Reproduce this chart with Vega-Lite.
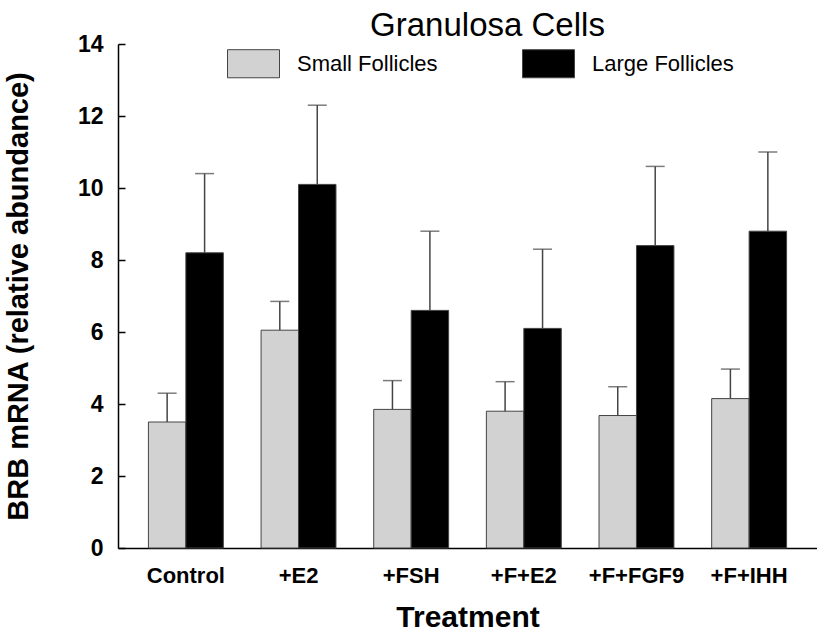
{
  "$schema": "https://vega.github.io/schema/vega-lite/v6.json",
  "width": 699,
  "height": 504,
  "autosize": {"type": "none"},
  "padding": {"left": 118, "top": 44, "right": 0, "bottom": 89},
  "background": "white",
  "config": {
    "font": "Liberation Sans",
    "view": {"stroke": null}
  },
  "title": {
    "text": "Granulosa Cells",
    "fontSize": 33,
    "fontWeight": "normal",
    "font": "Liberation Sans",
    "color": "black",
    "anchor": "middle",
    "baseline": "alphabetic",
    "offset": -36,
    "dx": 20
  },
  "data": {
    "values": [
      {"treatment": "Control", "follicle": "Small Follicles", "mean": 3.5, "upper": 4.3},
      {"treatment": "Control", "follicle": "Large Follicles", "mean": 8.2, "upper": 10.4},
      {"treatment": "+E2", "follicle": "Small Follicles", "mean": 6.05, "upper": 6.85},
      {"treatment": "+E2", "follicle": "Large Follicles", "mean": 10.1, "upper": 12.3},
      {"treatment": "+FSH", "follicle": "Small Follicles", "mean": 3.85, "upper": 4.65},
      {"treatment": "+FSH", "follicle": "Large Follicles", "mean": 6.6, "upper": 8.8},
      {"treatment": "+F+E2", "follicle": "Small Follicles", "mean": 3.8, "upper": 4.62},
      {"treatment": "+F+E2", "follicle": "Large Follicles", "mean": 6.1, "upper": 8.3},
      {"treatment": "+F+FGF9", "follicle": "Small Follicles", "mean": 3.68, "upper": 4.48},
      {"treatment": "+F+FGF9", "follicle": "Large Follicles", "mean": 8.4, "upper": 10.6},
      {"treatment": "+F+IHH", "follicle": "Small Follicles", "mean": 4.15, "upper": 4.97},
      {"treatment": "+F+IHH", "follicle": "Large Follicles", "mean": 8.8, "upper": 11.0}
    ]
  },
  "encoding": {
    "x": {
      "field": "treatment",
      "type": "nominal",
      "sort": ["Control", "+E2", "+FSH", "+F+E2", "+F+FGF9", "+F+IHH"],
      "scale": {"paddingInner": 0.335, "paddingOuter": 0.27},
      "axis": {
        "title": "Treatment",
        "titleFontSize": 30,
        "titleFontWeight": "bold",
        "titleColor": "black",
        "titlePadding": 16,
        "labelAngle": 0,
        "labelFontSize": 22,
        "labelFontWeight": "bold",
        "labelColor": "black",
        "labelPadding": 17,
        "ticks": false,
        "domainColor": "black",
        "domainWidth": 1.5
      }
    },
    "xOffset": {
      "field": "follicle",
      "type": "nominal",
      "sort": ["Small Follicles", "Large Follicles"],
      "scale": {"paddingInner": 0, "paddingOuter": 0}
    }
  },
  "layer": [
    {
      "mark": {"type": "bar", "stroke": "#444", "strokeWidth": 1},
      "encoding": {
        "y": {
          "field": "mean",
          "type": "quantitative",
          "scale": {"domain": [0, 14], "nice": false},
          "axis": {
            "title": "BRB mRNA (relative abundance)",
            "titleFontSize": 29,
            "titleFontWeight": "bold",
            "titleColor": "black",
            "titlePadding": 44,
            "values": [0, 1, 2, 3, 4, 5, 6, 7, 8, 9, 10, 11, 12, 13, 14],
            "labelExpr": "datum.value % 2 === 0 ? datum.label : ''",
            "labelFontSize": 23,
            "labelFontWeight": "bold",
            "labelColor": "black",
            "tickSize": -7,
            "tickColor": "black",
            "tickWidth": 1.5,
            "labelPadding": 22,
            "grid": false,
            "domainColor": "black",
            "domainWidth": 1.5
          }
        },
        "fill": {
          "field": "follicle",
          "type": "nominal",
          "sort": ["Small Follicles", "Large Follicles"],
          "scale": {"domain": ["Small Follicles", "Large Follicles"], "range": ["#d2d2d2", "#000000"]},
          "legend": {
            "title": null,
            "orient": "none",
            "legendX": 109,
            "legendY": -7,
            "direction": "horizontal",
            "symbolType": "M-1,-0.54H1V0.54H-1Z",
            "symbolSize": 2704,
            "symbolStrokeColor": "#444",
            "symbolStrokeWidth": 1,
            "symbolOpacity": 1,
            "labelFontSize": 22,
            "labelColor": "black",
            "labelOffset": 17,
            "columnPadding": 82,
            "labelLimit": 250
          }
        }
      }
    },
    {
      "mark": {"type": "rule", "color": "#444", "strokeWidth": 1.5},
      "encoding": {
        "y": {"field": "mean", "type": "quantitative"},
        "y2": {"field": "upper"}
      }
    },
    {
      "mark": {"type": "tick", "color": "#444", "thickness": 1.5, "size": 19, "orient": "horizontal"},
      "encoding": {
        "y": {"field": "upper", "type": "quantitative"}
      }
    }
  ]
}
